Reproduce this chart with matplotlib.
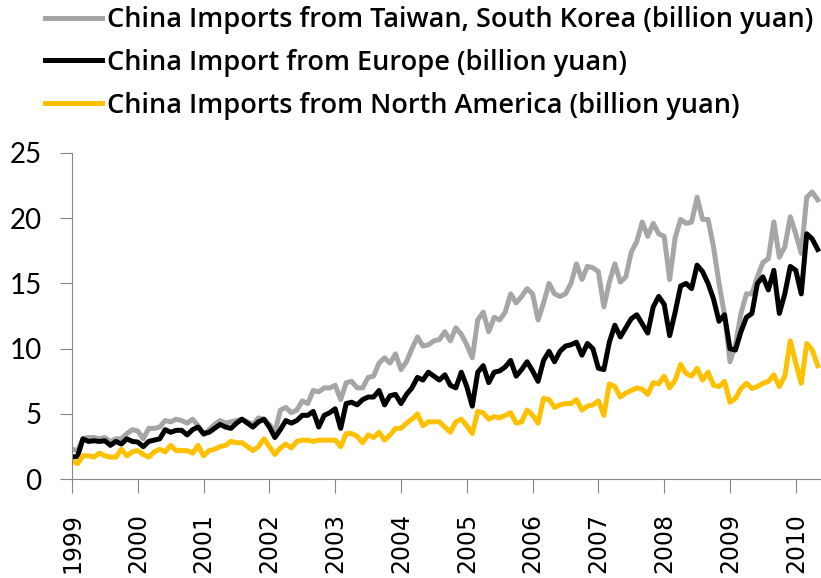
import numpy as np
import matplotlib
matplotlib.use('Agg')
import matplotlib.pyplot as plt

# monthly values, Jan 1999 - May 2010 (billion yuan)
years = [str(y) for y in range(1999, 2011)]

taiwan_korea = [
    2.3, 2.2, 3.1, 3.2, 3.2, 3.1, 3.2, 2.9, 3.1, 3.1, 3.5, 3.8,
    3.7, 3.1, 3.9, 3.9, 4.0, 4.5, 4.4, 4.6, 4.5, 4.3, 4.6, 4.1,
    3.4, 3.8, 4.2, 4.5, 4.3, 4.4, 4.5, 4.6, 4.4, 4.2, 4.7, 4.6,
    4.2, 3.6, 5.3, 5.5, 5.1, 5.3, 6.0, 5.8, 6.8, 6.7, 7.0, 7.0,
    7.2, 6.1, 7.4, 7.5, 7.0, 7.0, 7.8, 7.9, 8.9, 9.3, 8.9, 9.6,
    8.4, 9.0, 10.0, 10.9, 10.2, 10.3, 10.6, 10.7, 11.3, 10.6, 11.6, 11.1,
    10.3, 9.3, 12.2, 12.8, 11.3, 12.4, 12.2, 12.8, 14.2, 13.5, 14.0, 14.6,
    14.2, 12.2, 13.5, 15.0, 14.2, 14.0, 14.2, 15.0, 16.5, 15.3, 16.3, 16.2,
    15.9, 13.2, 15.1, 16.5, 15.1, 15.5, 17.4, 18.2, 19.7, 18.6, 19.6, 18.8,
    18.6, 15.3, 18.5, 19.9, 19.6, 19.7, 21.6, 19.9, 19.9, 17.8, 15.0, 12.6,
    9.0, 10.3, 12.7, 14.2, 14.2, 15.5, 16.6, 16.9, 19.7, 17.0, 17.8, 20.1,
    18.8, 17.3, 21.6, 22.0, 21.4,
]

europe = [
    1.7, 1.75, 3.1, 2.9, 2.95, 2.9, 2.95, 2.6, 2.9, 2.7, 3.1, 2.9,
    2.85, 2.5, 2.9, 3.0, 3.1, 3.8, 3.6, 3.75, 3.75, 3.4, 3.8, 4.0,
    3.5, 3.6, 3.9, 4.2, 4.0, 3.9, 4.3, 4.6, 4.3, 4.0, 4.4, 4.6,
    4.0, 3.2, 3.8, 4.5, 4.3, 4.5, 4.9, 4.9, 5.2, 4.0, 4.9, 5.1,
    5.4, 3.9, 5.8, 5.9, 5.7, 6.1, 6.3, 6.3, 6.8, 5.7, 6.4, 6.5,
    5.8, 6.5, 7.0, 7.8, 7.6, 8.2, 7.9, 7.6, 8.0, 7.2, 7.0, 8.2,
    7.1, 5.6, 8.2, 8.7, 7.4, 8.2, 8.3, 8.6, 9.1, 7.9, 8.4, 9.0,
    8.3, 7.5, 9.1, 9.8, 9.0, 9.8, 10.2, 10.3, 10.5, 9.5, 10.4, 10.0,
    8.5, 8.4, 10.5, 11.8, 10.9, 11.6, 12.3, 12.6, 11.9, 11.2, 13.2, 14.0,
    13.4, 11.0, 12.8, 14.8, 15.0, 14.6, 16.4, 15.9, 15.0, 13.8, 12.1, 12.6,
    10.0, 9.9, 11.3, 12.4, 12.7, 15.0, 15.5, 14.5, 16.0, 12.7, 14.2, 16.3,
    16.0, 14.2, 18.8, 18.4, 17.6,
]

north_america = [
    1.4, 1.2, 1.8, 1.8, 1.7, 2.0, 1.8, 1.7, 1.7, 2.3, 1.8, 2.1,
    2.2, 1.9, 1.7, 2.1, 2.3, 2.1, 2.6, 2.2, 2.2, 2.2, 2.0, 2.6,
    1.8, 2.2, 2.3, 2.5, 2.6, 2.9, 2.8, 2.8, 2.5, 2.2, 2.5, 3.1,
    2.5, 1.9, 2.4, 2.7, 2.4, 2.9, 3.0, 3.0, 2.9, 3.0, 3.0, 3.0,
    3.0, 2.5, 3.5, 3.5, 3.3, 2.8, 3.4, 3.2, 3.6, 3.0, 3.4, 3.9,
    3.9, 4.3, 4.6, 5.0, 4.1, 4.4, 4.4, 4.4, 4.0, 3.6, 4.4, 4.6,
    4.1, 3.5, 5.2, 5.1, 4.6, 4.8, 4.7, 4.9, 5.1, 4.3, 4.4, 5.3,
    4.9, 4.3, 6.2, 6.1, 5.5, 5.7, 5.8, 5.8, 6.1, 5.3, 5.6, 5.7,
    6.0, 4.9, 7.3, 7.1, 6.3, 6.6, 6.8, 7.0, 6.9, 6.5, 7.4, 7.3,
    7.9, 7.0, 7.6, 8.8, 8.1, 7.9, 8.5, 7.6, 8.2, 7.2, 7.1, 7.5,
    5.9, 6.2, 6.95, 7.35, 6.95, 7.1, 7.35, 7.5, 8.0, 7.1, 7.9, 10.6,
    8.9, 7.35, 10.4, 9.9, 8.7,
]

labels = ['China Imports from Taiwan, South Korea (billion yuan)',
          'China Import from Europe (billion yuan)',
          'China Imports from North America (billion yuan)']

W, H = 821, 578
fig = plt.figure(figsize=(W / 100, H / 100), dpi=100)
ax = fig.add_axes([72 / W, 1 - 479.3 / H, 1 - 72 / W, (479.3 - 152.8) / H])

x = np.arange(len(europe))
ax.plot(x, taiwan_korea, color='#A6A6A6', lw=3.6, solid_joinstyle='round', label=labels[0])
ax.plot(x, europe, color='black', lw=3.6, solid_joinstyle='round', label=labels[1])
ax.plot(x, north_america, color='#FFC000', lw=3.6, solid_joinstyle='round', label=labels[2])

ax.set_xlim(0, len(europe) - 0.4)
ax.set_ylim(0, 25)
ax.set_yticks(range(0, 26, 5))
ax.set_xticks(range(0, len(europe), 12))
ax.set_xticklabels(years, rotation=90, fontsize=17, family='DejaVu Sans')
for t in ax.get_yticklabels():
    t.set_family('Lato')
    t.set_fontsize(20)

for s in ['top', 'right']:
    ax.spines[s].set_visible(False)
for s in ['left', 'bottom']:
    ax.spines[s].set_color('#868686')
ax.tick_params(axis='y', direction='out', length=9, color='#868686', pad=13)
ax.tick_params(axis='x', direction='out', length=10, color='#868686', pad=14)

fig.legend(loc='upper left', bbox_to_anchor=(45 / W, 1 - 6 / H), frameon=False,
           prop={'family': 'Open Sans', 'weight': 600, 'size': 19.5},
           handlelength=2.1, handletextpad=0.2, labelspacing=0.55,
           borderpad=0, borderaxespad=0)

fig.savefig('out.png', dpi=100)
